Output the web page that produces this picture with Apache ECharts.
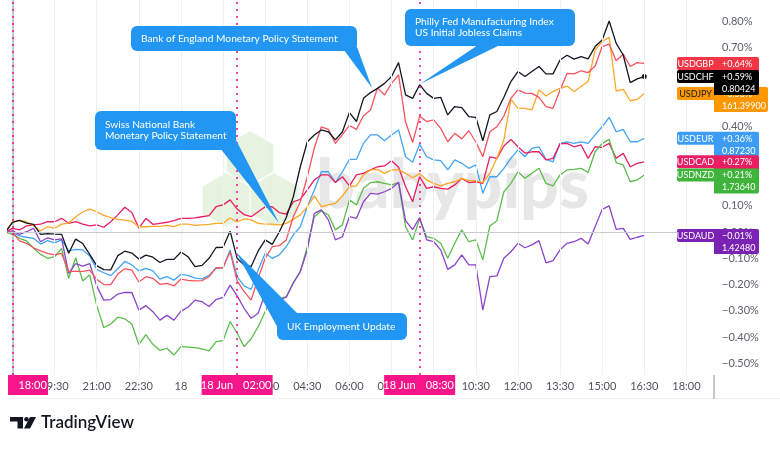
<!DOCTYPE html>
<html>
<head>
<meta charset="utf-8">
<script src="https://cdn.jsdelivr.net/npm/echarts@6.0.0/dist/echarts.min.js"></script>
<style>
html,body{margin:0;padding:0;background:#fff;}
#chart{width:780px;height:449px;}
</style>
</head>
<body>
<div id="chart"></div>
<script>
// 15 min bars, first bar 17:45 (17 Jun), minutes counted from 18:00
var startMinute = -15
var stepMinute = 15

var names = ['USDGBP','USDCHF','USDJPY','USDEUR','USDCAD','USDNZD','USDAUD']

// % change vs first bar
var usdgbp = [0,
 -0.001,-0.034,-0.043,-0.060,-0.072,-0.081,-0.087,-0.081,-0.150,-0.150,
 -0.150,-0.145,-0.180,-0.200,-0.200,-0.160,-0.140,-0.145,-0.190,-0.170,
 -0.176,-0.199,-0.195,-0.205,-0.179,-0.184,-0.186,-0.185,-0.170,-0.136,
 -0.136,-0.075,-0.186,-0.227,-0.259,-0.175,-0.100,-0.056,-0.052,-0.030,
 0.058,0.115,0.210,0.320,0.400,0.390,0.337,0.370,0.405,0.390,
 0.442,0.464,0.548,0.521,0.565,0.597,0.418,0.340,0.440,0.420,
 0.426,0.394,0.343,0.375,0.354,0.385,0.343,0.286,0.381,0.400,
 0.441,0.508,0.540,0.528,0.527,0.512,0.477,0.470,0.540,0.603,
 0.601,0.613,0.606,0.631,0.705,0.714,0.651,0.676,0.629,0.644,
 0.641]
var usdchf = [0,
 0.037,0.044,0.034,0.029,-0.009,-0.006,-0.008,-0.009,-0.081,-0.027,
 -0.044,-0.085,-0.128,-0.143,-0.144,-0.090,-0.073,-0.080,-0.103,-0.088,
 -0.096,-0.116,-0.104,-0.104,-0.076,-0.094,-0.132,-0.127,-0.100,-0.059,
 -0.058,0.003,-0.100,-0.126,-0.131,-0.072,-0.030,-0.047,0.000,0.055,
 0.134,0.248,0.343,0.369,0.388,0.381,0.350,0.381,0.454,0.420,
 0.508,0.530,0.546,0.565,0.591,0.644,0.521,0.508,0.560,0.527,
 0.508,0.512,0.445,0.477,0.473,0.439,0.436,0.347,0.445,0.458,
 0.512,0.572,0.610,0.591,0.610,0.629,0.601,0.601,0.654,0.672,
 0.657,0.667,0.658,0.705,0.730,0.802,0.717,0.673,0.568,0.582,
 0.591]
var usdjpy = [0,
 0.039,0.044,0.039,0.024,0.004,0.020,0.014,0.030,0.034,0.058,
 0.076,0.087,0.077,0.063,0.055,0.048,0.045,0.040,0.020,0.020,
 0.021,0.021,0.025,0.020,0.030,0.030,0.025,0.027,0.029,0.033,
 0.033,0.053,0.038,0.050,0.046,0.033,0.030,0.030,0.027,0.033,
 0.048,0.065,0.096,0.137,0.096,0.103,0.109,0.137,0.172,0.175,
 0.217,0.236,0.238,0.223,0.236,0.236,0.223,0.206,0.222,0.198,
 0.185,0.175,0.185,0.191,0.204,0.195,0.195,0.188,0.223,0.280,
 0.350,0.504,0.470,0.470,0.464,0.540,0.517,0.534,0.546,0.555,
 0.534,0.553,0.572,0.692,0.724,0.740,0.536,0.542,0.499,0.504,
 0.527]
var usdeur = [0,
 -0.003,-0.015,-0.020,-0.024,-0.046,-0.033,-0.041,-0.030,-0.072,-0.066,
 -0.068,-0.091,-0.142,-0.155,-0.166,-0.140,-0.112,-0.125,-0.148,-0.138,
 -0.148,-0.179,-0.170,-0.183,-0.161,-0.165,-0.175,-0.178,-0.165,-0.138,
 -0.136,-0.068,-0.170,-0.205,-0.218,-0.144,-0.081,-0.100,-0.087,-0.056,
 -0.011,0.020,0.096,0.160,0.229,0.229,0.188,0.229,0.276,0.276,
 0.337,0.369,0.369,0.347,0.369,0.388,0.286,0.265,0.334,0.286,
 0.274,0.271,0.236,0.274,0.261,0.242,0.255,0.147,0.210,0.210,
 0.242,0.280,0.312,0.286,0.318,0.324,0.276,0.267,0.337,0.343,
 0.337,0.343,0.337,0.369,0.400,0.436,0.381,0.390,0.343,0.343,
 0.356]
var usdcad = [0,
 0.014,0.008,0.023,0.027,0.030,0.039,0.039,0.052,0.033,0.039,
 0.030,0.023,0.027,0.018,0.039,0.065,0.094,0.074,0.014,0.052,
 0.029,0.033,0.037,0.043,0.052,0.052,0.054,0.058,0.062,0.096,
 0.103,0.122,0.087,0.066,0.058,0.077,0.096,0.096,0.074,0.068,
 0.115,0.124,0.160,0.198,0.217,0.217,0.188,0.210,0.175,0.217,
 0.223,0.236,0.248,0.251,0.271,0.246,0.172,0.115,0.210,0.166,
 0.172,0.166,0.163,0.179,0.204,0.188,0.191,0.185,0.286,0.280,
 0.327,0.352,0.324,0.300,0.305,0.305,0.274,0.280,0.335,0.337,
 0.324,0.331,0.280,0.324,0.322,0.337,0.280,0.299,0.248,0.261,
 0.267]
var usdnzd = [0,
 -0.009,-0.024,-0.034,-0.062,-0.085,-0.100,-0.094,-0.062,-0.176,-0.098,
 -0.186,-0.163,-0.280,-0.363,-0.350,-0.324,-0.330,-0.350,-0.428,-0.390,
 -0.427,-0.450,-0.442,-0.468,-0.436,-0.438,-0.440,-0.444,-0.452,-0.417,
 -0.413,-0.341,-0.385,-0.436,-0.406,-0.360,-0.302,-0.246,-0.254,-0.246,
 -0.192,-0.150,-0.056,0.058,0.081,0.065,0.008,0.027,0.122,0.103,
 0.166,0.188,0.191,0.185,0.179,0.188,0.020,-0.030,0.050,-0.018,
 -0.024,-0.043,-0.100,-0.043,0.008,-0.037,-0.030,-0.106,0.023,0.043,
 0.153,0.185,0.229,0.204,0.223,0.242,0.185,0.175,0.217,0.236,
 0.238,0.242,0.226,0.305,0.337,0.352,0.264,0.255,0.191,0.198,
 0.217]
var usdaud = [0,
 0.004,-0.009,0.001,0.014,-0.037,-0.022,-0.030,-0.026,-0.157,-0.120,
 -0.130,-0.120,-0.205,-0.259,-0.257,-0.236,-0.230,-0.230,-0.297,-0.280,
 -0.303,-0.335,-0.317,-0.335,-0.301,-0.286,-0.259,-0.265,-0.283,-0.257,
 -0.249,-0.202,-0.243,-0.290,-0.328,-0.309,-0.233,-0.218,-0.258,-0.248,
 -0.195,-0.151,-0.068,0.071,0.084,0.046,-0.030,-0.018,0.058,0.052,
 0.115,0.147,0.144,0.153,0.166,0.189,0.043,0.009,0.055,-0.030,
 -0.037,-0.068,-0.142,-0.125,-0.087,-0.125,-0.125,-0.297,-0.170,-0.167,
 -0.100,-0.075,-0.043,-0.060,-0.049,-0.033,-0.117,-0.109,-0.068,-0.043,
 -0.037,-0.024,-0.046,0.020,0.086,0.099,0.010,0.014,-0.028,-0.020,
 -0.013]

// scale tags on the right
var lastPct = ['+0.64%','+0.59%','+0.53%','+0.36%','+0.27%','+0.21%','\u22120.01%']
var lastPrice = ['1.27000','0.80424','161.39900','0.87230','1.37100','1.73640','1.42480']

var xTicks = [90,180,270,360,450,540,630,720,810,900,990,1080,1170,1260,1350,1440]
var yTicks = [-0.5,-0.4,-0.3,-0.2,-0.1,0,0.1,0.2,0.3,0.4,0.5,0.6,0.7,0.8]

var eventMinutes = [0,480,870]
var eventDays = ['17 Jun','18 Jun','18 Jun']
var eventTimes = ['18:00','02:00','08:30']

var allValues = [usdgbp,usdchf,usdjpy,usdeur,usdcad,usdnzd,usdaud]
var lineColors = ['#f7525f','#131722','#ffa726','#42a5f5','#e91e63','#5bbd4c','#8c43cc']
var tagColors = ['#f23645','#000000','#ff9800','#3d9cf5','#e91e63','#3fb43a','#7b22b5']
var pink = '#f7168a'
var calloutBlue = '#2196f3'
var FONT = 'Lato, "Open Sans", sans-serif'

function pairs(arr){
	return arr.map(function(v,i){
		return [startMinute + i*stepMinute, v]
	})
}

function timeLabel(m){
	var t = (18*60 + m) % 1440
	if(t === 0) return '18'
	var h = Math.floor(t/60), mm = t%60
	return (h<10?'0':'')+h+':'+(mm<10?'0':'')+mm
}

function pctLabel(v){
	var s = Math.abs(v).toFixed(2)+'%'
	return v < -0.0001 ? '\u2212'+s : s
}

var chart = echarts.init(document.getElementById('chart'))

var gridLines = xTicks.map(function(m){
	return {xAxis:m, lineStyle:{color:'#eef0f4',width:1,type:'solid'}}
})
gridLines.push({yAxis:0, lineStyle:{color:'#c9cbd0',width:1,type:'solid'}})
eventMinutes.forEach(function(m){
	gridLines.push({xAxis:m, lineStyle:{color:pink,width:1.6,type:[2,5]}})
})

var series = [{
	type:'line',
	data:[],
	silent:true,
	z:1,
	markLine:{
		silent:true,
		symbol:['none','none'],
		label:{show:false},
		animation:false,
		data:gridLines
	}
}]
// draw black last so it sits on top
var order = [3,4,5,6,2,0,1]
order.forEach(function(i){
	var d = pairs(allValues[i])
	if(names[i]==='USDCHF'){
		var last = d.length-1
		d[last] = {value:d[last], symbol:'circle', symbolSize:5, itemStyle:{color:'#131722'}}
	}
	series.push({
		name:names[i],
		type:'line',
		data:d,
		symbol:'none',
		showSymbol:true,
		showAllSymbol:true,
		clip:true,
		z:2,
		lineStyle:{width:1.3,color:lineColors[i]},
		itemStyle:{color:lineColors[i]},
		emphasis:{disabled:true}
	})
})

var option = {
	animation:false,
	backgroundColor:'#ffffff',
	grid:{left:8,right:66,top:0,bottom:74},
	xAxis:{
		type:'value',
		min:-9.6,
		max:1499,
		axisLine:{lineStyle:{color:'#b2b5be',width:1}},
		axisTick:{show:false},
		splitLine:{show:false},
		axisLabel:{
			customValues:xTicks,
			formatter:function(v){return timeLabel(v)},
			color:'#50535e',
			fontSize:11,
			fontFamily:FONT,
			margin:6
		}
	},
	yAxis:{
		type:'value',
		position:'right',
		min:-0.5437,
		max:0.882,
		axisLine:{show:true,lineStyle:{color:'#c4c6cc',width:2}},
		axisTick:{show:false},
		splitLine:{show:false},
		axisLabel:{
			customValues:yTicks,
			formatter:function(v){return pctLabel(v)},
			color:'#5d606b',
			fontSize:11,
			fontFamily:FONT,
			margin:8
		}
	},
	series:series
}

chart.setOption(option)

// ---------- overlays ----------
var g = []

function hexagon(cx,cy,r){
	var pts = []
	for(var k=0;k<6;k++){
		var a = Math.PI/6 + k*Math.PI/3
		pts.push([cx + r*Math.cos(a), cy + r*Math.sin(a)])
	}
	return {type:'polygon', z:0, silent:true, shape:{points:pts}, style:{fill:'rgba(140,200,110,0.22)'}}
}
// babypips watermark
g.push(hexagon(250,158,27))
g.push(hexagon(226,200,27))
g.push(hexagon(274,200,27))
g.push({type:'text', z:0, silent:true, x:316, y:186,
	style:{text:'babypips', font:'900 68px '+FONT, fill:'rgba(110,110,110,0.17)', textAlign:'left', textVerticalAlign:'middle', verticalAlign:'middle'}})

function addText(x,y,txt,font,fill,align){
	g.push({type:'text', z:120, silent:true, x:x, y:y,
		style:{text:txt, font:font, fill:fill, textAlign:align||'left', textVerticalAlign:'middle', verticalAlign:'middle'}})
}

function callout(box,lines,tri){
	g.push({type:'polygon', z:110, silent:true, shape:{points:tri}, style:{fill:calloutBlue}})
	g.push({type:'rect', z:110, silent:true, shape:{x:box[0],y:box[1],width:box[2],height:box[3],r:6}, style:{fill:calloutBlue}})
	var lh = 11
	var y0 = box[1] + box[3]/2 - (lines.length-1)*lh/2
	lines.forEach(function(t,j){
		addText(box[0]+10, y0 + j*lh, t, '10.2px '+FONT, '#ffffff')
	})
}

callout([131,26,226,25],['Bank of England Monetary Policy Statement'],[[344,50],[357,47],[372,88]])
callout([405,9,170,37],['Philly Fed Manufacturing Index','US Initial Jobless Claims'],[[478,45],[500,45],[420,84]])
callout([95,111,141,39],['Swiss National Bank','Monetary Policy Statement'],[[220,148],[236,140],[279,223]])
callout([277,313,130,27],['UK Employment Update'],[[236,252],[279,330],[298,314]])

// event boxes on the time axis
eventMinutes.forEach(function(m,j){
	var c = chart.convertToPixel({gridIndex:0},[m,0])[0]
	var x0 = Math.max(8, c-35.5)
	g.push({type:'rect', z:120, silent:true, shape:{x:x0,y:375,width:c+35.5-x0,height:20}, style:{fill:pink}})
	if(c-35.5 >= 8) addText(c-4, 385.5, eventDays[j], '11px '+FONT, '#ffffff', 'right')
	addText(c+6, 385.5, eventTimes[j], '11px '+FONT, '#ffffff', 'left')
})

// axis frame pieces below the plot
g.push({type:'line', z:5, silent:true, shape:{x1:8,y1:398.5,x2:780,y2:398.5}, style:{stroke:'#eceef2',lineWidth:1}})
g.push({type:'line', z:5, silent:true, shape:{x1:714,y1:375,x2:714,y2:399}, style:{stroke:'#c4c6cc',lineWidth:2}})

// scale tags for the last value of every series
var tagOrder = [0,2,1,3,4,5,6]
var lastMinute = startMinute + (usdgbp.length-1)*stepMinute
var tagFont = '9px '+FONT
tagOrder.forEach(function(i,n){
	var vals = allValues[i]
	var py = chart.convertToPixel({gridIndex:0},[lastMinute, vals[vals.length-1]])[1]
	var dark = names[i]==='USDJPY'
	var w = lastPrice[i].length > 7 ? 54 : 45
	var z = 130 + n*2
	g.push({type:'rect', z:z, silent:true, shape:{x:677,y:py-6.5,width:37,height:13,r:[2,0,0,2]}, style:{fill:tagColors[i]}})
	g.push({type:'rect', z:z, silent:true, shape:{x:714,y:py-6.5,width:w,height:25,r:[0,2,2,0]}, style:{fill:tagColors[i]}})
	g.push({type:'text', z:z+1, silent:true, x:695.5, y:py+0.5,
		style:{text:names[i], font:tagFont, fill:dark?'#131722':'#ffffff', textAlign:'center', textVerticalAlign:'middle', verticalAlign:'middle'}})
	g.push({type:'text', z:z+1, silent:true, x:722, y:py+0.5,
		style:{text:lastPct[i], font:tagFont, fill:'#ffffff', textAlign:'left', textVerticalAlign:'middle', verticalAlign:'middle'}})
	g.push({type:'text', z:z+1, silent:true, x:722, y:py+12.5,
		style:{text:lastPrice[i], font:tagFont, fill:'#ffffff', textAlign:'left', textVerticalAlign:'middle', verticalAlign:'middle'}})
})

// TradingView logo
g.push({type:'polygon', z:5, silent:true, shape:{points:[[10,417],[23,417],[23,428.5],[17.5,428.5],[17.5,421.5],[10,421.5]]}, style:{fill:'#131722'}})
g.push({type:'circle', z:5, silent:true, shape:{cx:26.5,cy:419.2,r:2.3}, style:{fill:'#131722'}})
g.push({type:'polygon', z:5, silent:true, shape:{points:[[30,417],[36,417],[30,428.5],[24,428.5]]}, style:{fill:'#131722'}})
g.push({type:'text', z:5, silent:true, x:41, y:423,
	style:{text:'TradingView', font:'600 17px '+FONT, fill:'#131722', textAlign:'left', textVerticalAlign:'middle', verticalAlign:'middle'}})

chart.setOption({graphic:{elements:g}})
</script>
</body>
</html>
